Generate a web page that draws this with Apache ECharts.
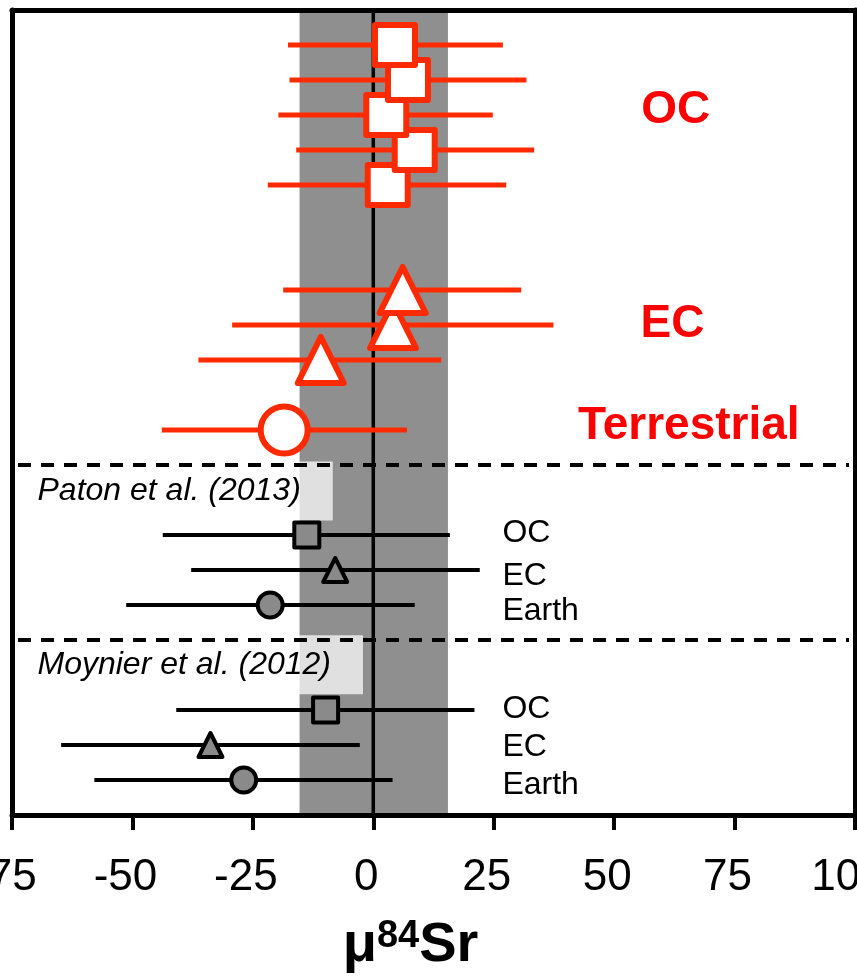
<!DOCTYPE html>
<html><head><meta charset="utf-8">
<script src="https://cdn.jsdelivr.net/npm/echarts@6/dist/echarts.min.js"></script>
<style>html,body{margin:0;padding:0;background:#fff}#c{width:857px;height:977px}</style>
</head><body><div id="c"></div>
<script>
// ---- x axis ----
const xMin = -75, xMax = 100, xStep = 25;
const yMin = 0, yMax = 23;

// ---- this study (red) : rows top to bottom ----
const ocRows = [22, 21, 20, 19, 18];
const ocMean = [4.5, 7.2, 2.7, 8.6, 3.0];
const ocLow  = [-17.7, -17.4, -19.7, -16.0, -21.9];
const ocHigh = [26.9, 31.8, 24.8, 33.4, 27.6];

const ecRows = [15, 14, 13];
const ecMean = [6.1, 4.1, -10.9];
const ecLow  = [-18.7, -29.3, -36.3];
const ecHigh = [30.7, 37.4, 14.1];

const terRows = [11];
const terMean = [-18.5];
const terLow  = [-43.9];
const terHigh = [7.0];

// ---- Paton et al. (2013) ----
const patonRows = [8, 7, 6];
const patonMean = [-13.8, -7.9, -21.4];
const patonLow  = [-43.7, -37.8, -51.3];
const patonHigh = [15.9, 22.1, 8.6];

// ---- Moynier et al. (2012) ----
const moyRows = [3, 2, 1];
const moyMean = [-9.9, -33.8, -26.9];
const moyLow  = [-40.9, -64.8, -57.9];
const moyHigh = [21.0, -2.8, 4.0];

// ---- reference band, dividers ----
const bandRange = [-15.3, 15.5];
const dividerRows = [10, 5];

// ---- texts ----
const groupLabels = ['OC', 'EC', 'Terrestrial'];
const groupLabelX = [62.8, 62.1, 65.5];
const groupLabelY = [20.12, 14.01, 11.1];

const refLabels = ['Paton et al. (2013)', 'Moynier et al. (2012)'];
const refLabelY = [9.26, 4.29];

const sampleLabels = ['OC', 'EC', 'Earth', 'OC', 'EC', 'Earth'];
const sampleLabelY = [8.04, 6.82, 5.82, 3.02, 1.93, 0.84];
const sampleLabelX = 26.7;

const FONT = '"Liberation Sans", Arial, Helvetica, sans-serif';
const RED = '#ff2a00';
const RED_TEXT = '#ff0000';
const GREY = '#8f8f8f';

function errData(rows, lo, hi) { return rows.map((r, i) => [lo[i], hi[i], r]); }
function ptData(rows, m) { return rows.map((r, i) => [m[i], r]).reverse(); }

function errSeries(rows, lo, hi, color, width) {
  return {
    type: 'custom', z: 4, silent: true,
    encode: { x: [0, 1], y: 2 },
    data: errData(rows, lo, hi),
    renderItem: function (params, api) {
      const a = api.coord([api.value(0), api.value(2)]);
      const b = api.coord([api.value(1), api.value(2)]);
      return { type: 'line', shape: { x1: a[0], y1: a[1], x2: b[0], y2: b[1] },
        style: { stroke: color, lineWidth: width } };
    }
  };
}
function markerSeries(rows, m, symbol, size, fill, stroke, bw) {
  return {
    type: 'scatter', z: 5, silent: true, symbol: symbol, symbolSize: size,
    data: ptData(rows, m),
    itemStyle: { color: fill, borderColor: stroke, borderWidth: bw, borderJoin: 'round', opacity: 1 },
    emphasis: { disabled: true }
  };
}
function textSeries(xs, ys, names, z, label) {
  return {
    type: 'scatter', z: z, silent: true, symbolSize: 1,
    data: names.map((t, i) => ({ value: [xs[i], ys[i]], name: t })),
    itemStyle: { color: 'rgba(0,0,0,0)', opacity: 1 },
    label: Object.assign({ show: true, formatter: p => p.name, opacity: 1 }, label),
    emphasis: { disabled: true }
  };
}

const series = [];
// band
series.push({
  type: 'custom', z: 1, silent: true, encode: { x: [0, 1] },
  data: [[bandRange[0], bandRange[1]]],
  renderItem: function (params, api) {
    const p1 = api.coord([api.value(0), yMax]);
    const p2 = api.coord([api.value(1), yMin]);
    return { type: 'rect', shape: { x: p1[0], y: p1[1], width: p2[0] - p1[0], height: p2[1] - p1[1] },
      style: { fill: GREY } };
  }
});
// reference label boxes
series.push(textSeries(refLabels.map(() => xMin), refLabelY, refLabels, 2, {
  position: 'right', distance: 0,
  fontFamily: FONT, fontStyle: 'italic', fontSize: 32, color: '#000',
  lineHeight: 30, padding: [15, 32, 14, 25], backgroundColor: 'rgba(255,255,255,0.72)'
}));
// zero line
series.push({
  type: 'custom', z: 3, silent: true, encode: { x: 0 }, data: [[0]],
  renderItem: function (params, api) {
    const a = api.coord([api.value(0), yMin]);
    const b = api.coord([api.value(0), yMax]);
    return { type: 'line', shape: { x1: a[0], y1: a[1], x2: b[0], y2: b[1] },
      style: { stroke: '#000', lineWidth: 3.5 } };
  }
});
// dashed dividers
series.push({
  type: 'custom', z: 3, silent: true, encode: { y: 0 }, data: dividerRows.map(r => [r]),
  renderItem: function (params, api) {
    const a = api.coord([xMin, api.value(0)]);
    const b = api.coord([xMax, api.value(0)]);
    return { type: 'line', shape: { x1: a[0] + 6, y1: a[1], x2: b[0] - 6, y2: b[1] },
      style: { stroke: '#000', lineWidth: 4, lineDash: [13, 10] } };
  }
});
// error bars
series.push(errSeries(ocRows, ocLow, ocHigh, RED, 5));
series.push(errSeries(ecRows, ecLow, ecHigh, RED, 5));
series.push(errSeries(terRows, terLow, terHigh, RED, 5));
series.push(errSeries(patonRows, patonLow, patonHigh, '#000', 4));
series.push(errSeries(moyRows, moyLow, moyHigh, '#000', 4));
// markers
series.push(markerSeries(ocRows, ocMean, 'rect', 40, '#fff', RED, 6));
series.push(markerSeries(ecRows, ecMean, 'triangle', 46, '#fff', RED, 6));
series.push(markerSeries(terRows, terMean, 'circle', 47, '#fff', RED, 6));
series.push(markerSeries([patonRows[0]], [patonMean[0]], 'rect', 25, '#8a8a8a', '#000', 4));
series.push(markerSeries([patonRows[1]], [patonMean[1]], 'triangle', 24, '#8a8a8a', '#000', 4));
series.push(markerSeries([patonRows[2]], [patonMean[2]], 'circle', 25, '#8a8a8a', '#000', 4));
series.push(markerSeries([moyRows[0]], [moyMean[0]], 'rect', 25, '#8a8a8a', '#000', 4));
series.push(markerSeries([moyRows[1]], [moyMean[1]], 'triangle', 24, '#8a8a8a', '#000', 4));
series.push(markerSeries([moyRows[2]], [moyMean[2]], 'circle', 25, '#8a8a8a', '#000', 4));
// red group labels
series.push(textSeries(groupLabelX, groupLabelY, groupLabels, 6, {
  position: 'inside', fontFamily: FONT, fontWeight: 'bold', fontSize: 46, color: RED_TEXT,
  textBorderWidth: 0
}));
// black sample labels
series.push(textSeries(sampleLabels.map(() => sampleLabelX), sampleLabelY, sampleLabels, 6, {
  position: 'right', distance: 0, fontFamily: FONT, fontSize: 32, color: '#000'
}));

const frameAxisLine = { show: true, onZero: false, lineStyle: { color: '#000', width: 5 } };

const option = {
  animation: false,
  backgroundColor: '#fff',
  grid: { left: 12, right: 2, top: 10, bottom: 162, containLabel: false, outerBoundsMode: 'none' },
  xAxis: [{
    type: 'value', min: xMin, max: xMax, interval: xStep, position: 'bottom', z: 10,
    axisLine: frameAxisLine,
    axisTick: { show: true, inside: false, length: 15, lineStyle: { color: '#000', width: 4 } },
    axisLabel: { show: true, margin: 41, fontSize: 44, color: '#000', fontFamily: FONT, padding: [0, 14, 0, 0] },
    splitLine: { show: false },
    name: '{a|μ}{b|84}{a|Sr}', nameLocation: 'middle', nameGap: 103,
    nameTextStyle: { padding: [0, 46, 0, 0], rich: {
      a: { fontSize: 56, fontWeight: 'bold', fontFamily: FONT, color: '#000', lineHeight: 56, verticalAlign: 'bottom' },
      b: { fontSize: 38, fontWeight: 'bold', fontFamily: FONT, color: '#000', lineHeight: 42, verticalAlign: 'top' }
    } }
  }, {
    type: 'value', min: xMin, max: xMax, interval: xStep, position: 'top', z: 10,
    axisLine: frameAxisLine, axisTick: { show: false }, axisLabel: { show: false }, splitLine: { show: false }
  }],
  yAxis: [{
    type: 'value', min: yMin, max: yMax, position: 'left', z: 10,
    axisLine: frameAxisLine, axisTick: { show: false }, axisLabel: { show: false }, splitLine: { show: false }
  }, {
    type: 'value', min: yMin, max: yMax, position: 'right', z: 10,
    axisLine: frameAxisLine, axisTick: { show: false }, axisLabel: { show: false }, splitLine: { show: false }
  }],
  series: series
};
const chart = echarts.init(document.getElementById('c'), null, { renderer: 'canvas' });
chart.setOption(option);
</script></body></html>
